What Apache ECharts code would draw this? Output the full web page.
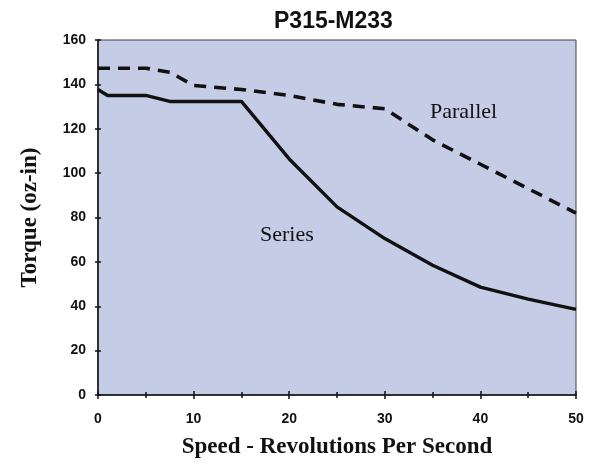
<!DOCTYPE html>
<html><head><meta charset="utf-8">
<script src="https://cdn.jsdelivr.net/npm/echarts@6/dist/echarts.min.js"></script>
<style>html,body{margin:0;padding:0;background:#fff}#c{width:589px;height:464px}</style>
</head><body><div id="c"></div>
<script>
var titleText = 'P315-M233';
var xAxisTitle = 'Speed - Revolutions Per Second';
var yAxisTitle = 'Torque (oz-in)';
var speeds = [0, 1, 5, 7.5, 15, 20, 25, 30, 35, 40, 45, 50];
var seriesTorque = [137.7, 135, 135, 132.3, 132.3, 106.4, 84.8, 70.5, 58.5, 48.6, 43.2, 38.6];
var parallelSpeeds = [0, 5, 7.5, 10, 15, 20, 25, 30, 35, 40, 45, 50];
var parallelTorque = [147.3, 147.3, 145.5, 139.5, 137.7, 135, 131, 129, 115, 104, 93, 82];
var seriesNames = ['Series', 'Parallel'];

function pairs(xs, ys) { return xs.map(function (x, i) { return [x, ys[i]]; }); }

var chart = echarts.init(document.getElementById('c'), null, {renderer: 'canvas'});
var axisLbl = {fontFamily: '"Liberation Sans", Arial, sans-serif', fontWeight: 'bold', fontSize: 14, color: '#111'};
var nameSty = {fontFamily: '"Liberation Serif", "Times New Roman", serif', fontWeight: 'bold', fontSize: 23, color: '#111'};
chart.setOption({
  animation: false,
  grid: {left: 98, right: 13, top: 40, bottom: 66, show: true, backgroundColor: '#C4CCE6', borderColor: '#444', borderWidth: 1},
  xAxis: [{
    type: 'value', min: 0, max: 50, interval: 10, position: 'bottom',
    axisLine: {lineStyle: {color: '#111', width: 1.5}},
    axisTick: {length: 4, lineStyle: {color: '#111', width: 1.5}},
    minorTick: {show: true, splitNumber: 2, length: 3, lineStyle: {color: '#111', width: 1.5}},
    splitLine: {show: false},
    axisLabel: Object.assign({margin: 17}, axisLbl),
    name: xAxisTitle, nameLocation: 'middle', nameGap: 41, nameTextStyle: nameSty
  }, {
    type: 'value', min: 0, max: 50, interval: 10, position: 'bottom', gridIndex: 0,
    axisLine: {show: false},
    axisTick: {inside: true, length: 4, lineStyle: {color: '#111', width: 1.5}},
    minorTick: {show: true, splitNumber: 2, length: 3, lineStyle: {color: '#111', width: 1.5}},
    splitLine: {show: false}, axisLabel: {show: false}
  }],
  yAxis: [{
    type: 'value', min: 0, max: 160, interval: 20, position: 'left',
    axisLine: {show: true, lineStyle: {color: '#111', width: 1.5}},
    axisTick: {show: true, length: 3, lineStyle: {color: '#111', width: 1.5}},
    splitLine: {show: false},
    axisLabel: Object.assign({margin: 12}, axisLbl),
    name: yAxisTitle, nameLocation: 'middle', nameGap: 56, nameTextStyle: nameSty
  }, {
    type: 'value', min: 0, max: 160, interval: 20, position: 'left', gridIndex: 0,
    axisLine: {show: false},
    axisTick: {show: true, inside: true, length: 3, lineStyle: {color: '#111', width: 1.5}},
    splitLine: {show: false}, axisLabel: {show: false}
  }],
  series: [{
    name: seriesNames[0], type: 'line', data: pairs(speeds, seriesTorque),
    showSymbol: false, symbol: 'none', lineStyle: {color: '#111', width: 3.4}
  }, {
    name: seriesNames[1], type: 'line', data: pairs(parallelSpeeds, parallelTorque),
    showSymbol: false, symbol: 'none', lineStyle: {color: '#111', width: 3.6, type: [12, 8]}
  }],
  graphic: [
    {type: 'text', left: 274, top: 10, style: {text: titleText, font: 'bold 23px "Liberation Sans", Arial, sans-serif', fill: '#111'}},
    {type: 'text', x: 430, y: 112, style: {text: seriesNames[1], font: '22px "Liberation Serif", "Times New Roman", serif', fill: '#111', verticalAlign: 'middle'}},
    {type: 'text', x: 260, y: 235, style: {text: seriesNames[0], font: '22px "Liberation Serif", "Times New Roman", serif', fill: '#111', verticalAlign: 'middle'}}
  ]
});
</script></body></html>
